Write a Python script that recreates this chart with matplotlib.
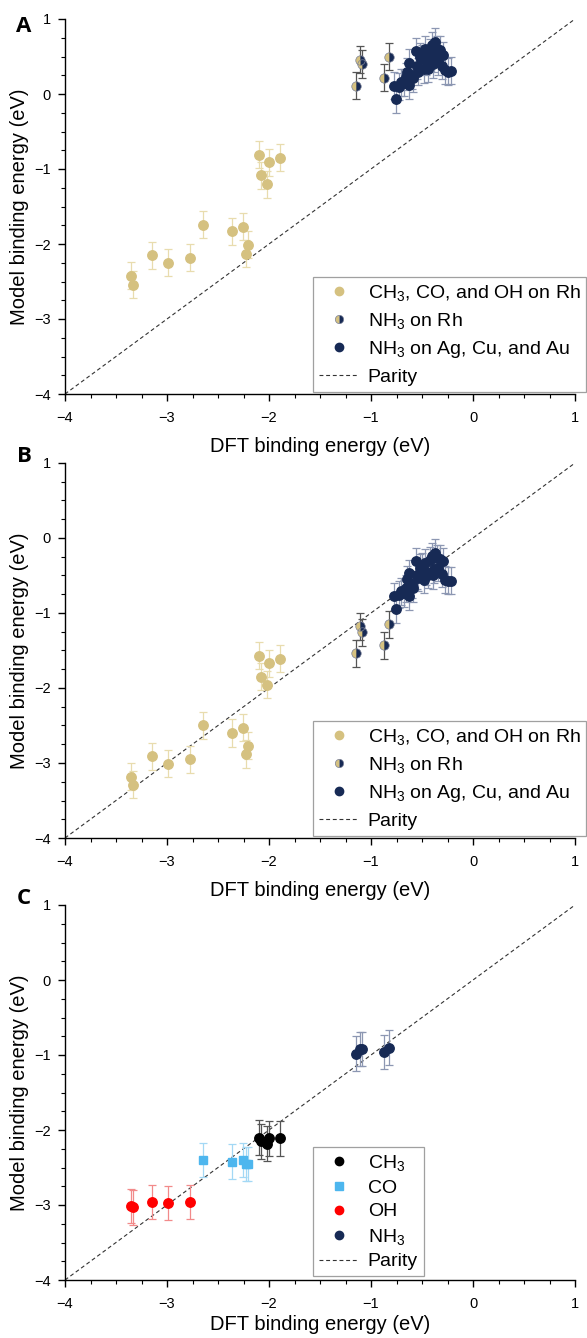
import matplotlib
matplotlib.use('Agg')
import matplotlib.pyplot as plt
from matplotlib.lines import Line2D
from matplotlib.ticker import MultipleLocator

plt.rcParams['font.family'] = ['Liberation Sans', 'DejaVu Sans']
plt.rcParams['mathtext.fontset'] = 'custom'
plt.rcParams['mathtext.rm'] = 'Liberation Sans'
plt.rcParams['mathtext.default'] = 'regular'

# ---------------- data ----------------
# DFT binding energies (x) for each adsorbate group
x_ch3 = [-2.095, -2.08, -2.022, -1.996, -1.897]
x_co = [-2.648, -2.363, -2.256, -2.227, -2.205]
x_oh = [-3.355, -3.33, -3.147, -2.993, -2.77]
x_nh3_rh = [-1.144, -1.11, -1.085, -0.877, -0.824]
x_nh3_metal = [-0.756, -0.77, -0.73, -0.71, -0.68, -0.66, -0.65, -0.63, -0.63, -0.60,
               -0.585, -0.56, -0.55, -0.535, -0.52, -0.50, -0.48, -0.475, -0.46, -0.44,
               -0.42, -0.40, -0.39, -0.378, -0.37, -0.35, -0.34, -0.32, -0.30, -0.29,
               -0.275, -0.25, -0.215]

# Panel A model binding energies
a_ch3 = [-0.81, -1.08, -1.20, -0.91, -0.85]
a_co = [-1.74, -1.83, -1.77, -2.13, -2.01]
a_oh = [-2.42, -2.54, -2.15, -2.25, -2.18]
a_nh3_rh = [0.11, 0.46, 0.40, 0.22, 0.50]
a_nh3_metal = [-0.07, 0.11, 0.10, 0.16, 0.15, 0.23, 0.30, 0.12, 0.42, 0.25,
               0.21, 0.57, 0.38, 0.30, 0.50, 0.48, 0.33, 0.60, 0.44, 0.34,
               0.55, 0.65, 0.40, 0.48, 0.70, 0.60, 0.43, 0.59, 0.38, 0.52,
               0.32, 0.30, 0.31]

# Panel B model binding energies
b_ch3 = [-1.57, -1.85, -1.96, -1.67, -1.61]
b_co = [-2.50, -2.60, -2.53, -2.88, -2.77]
b_oh = [-3.18, -3.29, -2.91, -3.01, -2.95]
b_nh3_rh = [-1.54, -1.18, -1.26, -1.43, -1.15]
b_nh3_metal = [-0.95, -0.78, -0.76, -0.71, -0.74, -0.67, -0.55, -0.78, -0.47, -0.62,
               -0.67, -0.31, -0.50, -0.53, -0.40, -0.38, -0.56, -0.33, -0.45, -0.49,
               -0.30, -0.245, -0.50, -0.42, -0.20, -0.27, -0.40, -0.28, -0.48, -0.31,
               -0.555, -0.57, -0.57]

# Panel C model binding energies
c_ch3 = [-2.10, -2.15, -2.18, -2.11, -2.11]
c_co = [-2.40, -2.42, -2.40, -2.45, -2.45]
c_oh = [-3.01, -3.03, -2.96, -2.97, -2.96]
c_nh3 = [-0.98, -0.92, -0.92, -0.96, -0.90]

err_ab = 0.18
err_c = 0.23

legend_ab = [r'CH$_3$, CO, and OH on Rh', r'NH$_3$ on Rh', r'NH$_3$ on Ag, Cu, and Au', 'Parity']
legend_c = [r'CH$_3$', 'CO', 'OH', r'NH$_3$', 'Parity']
ticks = [-4, -3, -2, -1, 0, 1]

# ---------------- style ----------------
TAN = '#D5C180'
TAN_E = '#E8DCAE'
NAVY = '#172A55'
NAVY_E = '#8C97B2'
RH_E = '#555555'
BLUE = '#4DB6EE'
BLUE_E = '#A3D8F5'
RED = '#FF0000'
RED_E = '#F28A8A'
BLACK = '#000000'
BLACK_E = '#555555'
LBL = 14.5
LEG = 14.0

W, H = 587, 1338
fig = plt.figure(figsize=(W / 100, H / 100), dpi=100)


def rect(top, bottom, left=65, right=575):
    return [left / W, 1 - bottom / H, (right - left) / W, (bottom - top) / H]


MS = 6.8
DASH = (0, (3.5, 2.5))


def style_axes(ax, xpad):
    ax.set_xlim(-4, 1)
    ax.set_ylim(-4, 1)
    ax.set_xticks(ticks)
    ax.set_yticks(ticks)
    ax.xaxis.set_minor_locator(MultipleLocator(0.25))
    ax.yaxis.set_minor_locator(MultipleLocator(0.25))
    for s in ['top', 'right']:
        ax.spines[s].set_visible(False)
    for s in ['left', 'bottom']:
        ax.spines[s].set_linewidth(1.0)
    ax.tick_params(which='major', direction='out', length=5, width=1.0, labelsize=10.5)
    ax.tick_params(axis='x', which='major', pad=7)
    ax.tick_params(axis='y', which='major', pad=5)
    ax.tick_params(which='minor', direction='out', length=3, width=0.8)
    ax.set_xlabel('DFT binding energy (eV)', fontsize=LBL, labelpad=xpad)
    ax.set_ylabel('Model binding energy (eV)', fontsize=LBL, labelpad=4)
    ax.plot(ticks, ticks, ls=DASH, color='#333333', lw=0.8, zorder=1)


def eb(ax, x, y, err, ecol):
    ax.errorbar(x, y, yerr=err, fmt='none', ecolor=ecol, elinewidth=0.9,
                capsize=3.2, capthick=0.9, zorder=2)


def half(ax, x, y, ms, z=5):
    ax.plot(x, y, 'o', ms=ms, fillstyle='left', markerfacecolor=TAN,
            markerfacecoloralt='none', mec='none', zorder=z)
    ax.plot(x, y, 'o', ms=ms, fillstyle='right', markerfacecolor=NAVY,
            markerfacecoloralt='none', mec='none', zorder=z)
    ax.plot(x, y, 'o', ms=ms, mfc='none', mec='#7A8096', mew=0.5, zorder=z)


def ab_panel(ax, ych3, yco, yoh, yrh, ymet):
    style_axes(ax, 9)
    xt = x_ch3 + x_co + x_oh
    yt = ych3 + yco + yoh
    eb(ax, xt, yt, err_ab, TAN_E)
    ax.plot(xt, yt, 'o', color=TAN, ms=MS, mec=TAN, zorder=3)
    eb(ax, x_nh3_metal, ymet, err_ab, NAVY_E)
    ax.plot(x_nh3_metal, ymet, 'o', color=NAVY, ms=MS, mec=NAVY, zorder=4)
    eb(ax, x_nh3_rh, yrh, err_ab, RH_E)
    half(ax, x_nh3_rh, yrh, MS)
    h_half = (Line2D([], [], ls='none', marker='o', ms=6, fillstyle='left',
                     markerfacecolor=TAN, markerfacecoloralt='none', mec='none'),
              Line2D([], [], ls='none', marker='o', ms=6, fillstyle='right',
                     markerfacecolor=NAVY, markerfacecoloralt='none', mec='none'),
              Line2D([], [], ls='none', marker='o', ms=6, mfc='none', mec='#7A8096', mew=0.5))
    handles = [
        Line2D([], [], ls='none', marker='o', color=TAN, ms=6),
        h_half,
        Line2D([], [], ls='none', marker='o', color=NAVY, ms=6),
        Line2D([], [], ls=DASH, color='#333333', lw=0.8),
    ]
    leg = ax.legend(handles, legend_ab, loc='lower left', bbox_to_anchor=(0.487, 0.006),
                    fontsize=LEG, frameon=True, fancybox=False, edgecolor='#888888',
                    handlelength=2.0, handletextpad=0.5, labelspacing=0.42,
                    borderpad=0.3, borderaxespad=0)
    leg.get_frame().set_linewidth(0.9)
    leg.set_zorder(10)


# Panel A
axA = fig.add_axes(rect(19, 394))
ab_panel(axA, a_ch3, a_co, a_oh, a_nh3_rh, a_nh3_metal)

# Panel B
axB = fig.add_axes(rect(463, 838))
ab_panel(axB, b_ch3, b_co, b_oh, b_nh3_rh, b_nh3_metal)

# Panel C
axC = fig.add_axes(rect(905, 1280))
style_axes(axC, 3)
eb(axC, x_oh, c_oh, err_c, RED_E)
axC.plot(x_oh, c_oh, 'o', color=RED, ms=MS, zorder=3)
eb(axC, x_co, c_co, err_c, BLUE_E)
axC.plot(x_co, c_co, 's', color=BLUE, ms=MS - 0.6, zorder=3)
eb(axC, x_ch3, c_ch3, err_c, BLACK_E)
axC.plot(x_ch3, c_ch3, 'o', color=BLACK, ms=MS, zorder=3)
eb(axC, x_nh3_rh, c_nh3, err_c, NAVY_E)
axC.plot(x_nh3_rh, c_nh3, 'o', color=NAVY, ms=MS, zorder=3)
handles_c = [
    Line2D([], [], ls='none', marker='o', color=BLACK, ms=6),
    Line2D([], [], ls='none', marker='s', color=BLUE, ms=5.5),
    Line2D([], [], ls='none', marker='o', color=RED, ms=6),
    Line2D([], [], ls='none', marker='o', color=NAVY, ms=6),
    Line2D([], [], ls=DASH, color='#333333', lw=0.8),
]
legC = axC.legend(handles_c, legend_c, loc='lower left', bbox_to_anchor=(0.487, 0.01),
                  fontsize=LEG, frameon=True, fancybox=False, edgecolor='#888888',
                  handlelength=2.0, handletextpad=0.5, labelspacing=0.32,
                  borderpad=0.3, borderaxespad=0)
legC.get_frame().set_linewidth(0.9)

# Panel letters
for lab, ypx in [('A', 27), ('B', 456), ('C', 898)]:
    fig.text(24 / W, 1 - ypx / H, lab, fontsize=16, fontweight='bold',
             family=['Open Sans', 'DejaVu Sans'], ha='center', va='center')

fig.savefig('out.png', dpi=100)
